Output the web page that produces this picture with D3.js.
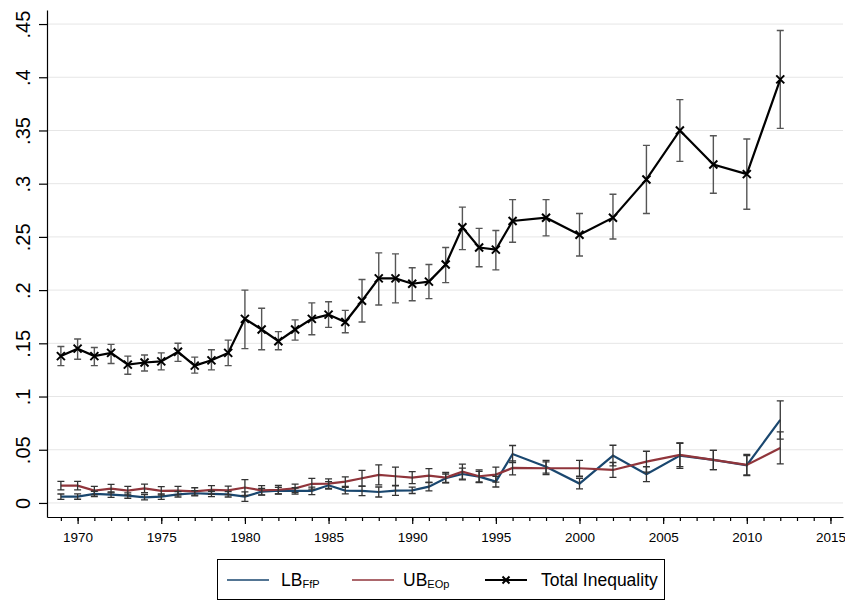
<!DOCTYPE html>
<html>
<head>
<meta charset="utf-8">
<script src="https://cdn.jsdelivr.net/npm/d3@7"></script>
<style>
  body { margin: 0; background: #fff; }
  svg { font-family: "Liberation Sans", Arial, sans-serif; }
</style>
</head>
<body>
<div id="chart"></div>
<script>
// years shared by all three series
const years = [1969, 1970, 1971, 1972, 1973, 1974, 1975, 1976, 1977, 1978, 1979,
  1980, 1981, 1982, 1983, 1984, 1985, 1986, 1987, 1988, 1989, 1990, 1991, 1992,
  1993, 1994, 1995, 1996, 1998, 2000, 2002, 2004, 2006, 2008, 2010, 2012];

// Total inequality, with confidence bands
const totalIneq = [.138, .145, .138, .141, .130, .132, .133, .142, .129, .134, .141,
  .173, .163, .152, .163, .173, .177, .170, .190, .211, .211, .206, .208, .224,
  .259, .240, .238, .265, .268, .252, .268, .304, .350, .318, .309, .398];
const totalLo = [.129, .135, .129, .131, .121, .124, .125, .133, .122, .125, .129,
  .145, .144, .144, .153, .158, .165, .160, .170, .186, .188, .190, .192, .207,
  .238, .222, .219, .245, .251, .232, .248, .272, .321, .291, .276, .352];
const totalHi = [.147, .154, .146, .149, .138, .139, .141, .150, .137, .144, .153,
  .200, .183, .161, .172, .188, .189, .181, .210, .235, .234, .221, .224, .240,
  .278, .258, .256, .285, .285, .272, .290, .336, .379, .345, .342, .444];

// LB FfP
const lbFfP = [.0059, .0060, .0085, .0078, .0069, .0053, .0059, .0081, .0091, .0085, .0081,
  .0059, .0106, .0116, .0113, .0114, .0166, .0116, .0113, .0103, .0116, .0119, .0153, .0232,
  .0272, .0247, .0200, .0460, .0340, .0182, .0445, .0270, .0445, .0404, .0354, .0780];
const lbHalf = [.0025, .0025, .0025, .0025, .0025, .0025, .0025, .0025, .0025, .0025, .0025,
  .0045, .0030, .0030, .0030, .0035, .0035, .0030, .0045, .0047, .0044, .0030, .0040, .0040,
  .0056, .0050, .0050, .0080, .0060, .0050, .0097, .0070, .0120, .0090, .0090, .0180];

// UB EOp
const ubEOp = [.0163, .0163, .0116, .0135, .0116, .0136, .0114, .0115, .0108, .0122, .0118,
  .0145, .0118, .0124, .0137, .0180, .0182, .0200, .0232, .0263, .0251, .0238, .0257, .0238,
  .0294, .0251, .0266, .0329, .0326, .0326, .0310, .0388, .0451, .0404, .0357, .0517];
const ubHalf = [.0040, .0040, .0040, .0040, .0040, .0040, .0040, .0040, .0035, .0040, .0040,
  .0075, .0045, .0040, .0040, .0050, .0045, .0045, .0075, .0094, .0085, .0056, .0065, .0050,
  .0070, .0060, .0070, .0066, .0060, .0075, .0070, .0098, .0110, .0090, .0100, .0150];

const yTicks = [0, .05, .1, .15, .2, .25, .3, .35, .4, .45];
const yTickLabels = ["0", ".05", ".1", ".15", ".2", ".25", ".3", ".35", ".4", ".45"];
const xTicks = [1970, 1975, 1980, 1985, 1990, 1995, 2000, 2005, 2010, 2015];
const xMinorTicks = d3.range(1969, 2016);

const width = 845;
const height = 601;

const navy = "#1a476f";
const maroon = "#90353b";

const svg = d3.select("#chart").append("svg")
  .attr("width", width)
  .attr("height", height);

const x = d3.scaleLinear().domain([1968.17, 2015.75]).range([47, 843]);
const y = d3.scaleLinear().domain([-0.0132, 0.4632]).range([517, 10]);

// gridlines
svg.append("g")
  .selectAll("line")
  .data(yTicks)
  .join("line")
  .attr("x1", 48)
  .attr("x2", 843)
  .attr("y1", d => y(d))
  .attr("y2", d => y(d))
  .attr("stroke", "#e6e6e6")
  .attr("stroke-width", 1);

// y axis
const yAxis = svg.append("g")
  .attr("transform", "translate(47,0)")
  .call(d3.axisLeft(y).tickValues(yTicks).tickSize(8).tickSizeOuter(0)
    .tickFormat((d, i) => yTickLabels[i]));
yAxis.select(".domain").attr("stroke", "#000").attr("stroke-width", 1.2);
yAxis.selectAll(".tick line").attr("stroke", "#000").attr("stroke-width", 1.2);
yAxis.selectAll(".tick text")
  .attr("x", null)
  .attr("dy", null)
  .attr("text-anchor", "middle")
  .attr("transform", "translate(-17,0) rotate(-90)")
  .attr("font-size", 20)
  .attr("fill", "#000")
  .attr("font-family", "'Liberation Sans', Arial, sans-serif");

// x axis: minor ticks first, then labelled major ticks
const xAxisG = svg.append("g").attr("transform", "translate(0,517)");
xAxisG.append("g")
  .call(d3.axisBottom(x).tickValues(xMinorTicks).tickSize(4).tickSizeOuter(0).tickFormat(""))
  .call(g => g.select(".domain").attr("stroke", "#000").attr("stroke-width", 1.2))
  .call(g => g.selectAll(".tick line").attr("stroke", "#000").attr("stroke-width", 1.2));
xAxisG.append("g")
  .call(d3.axisBottom(x).tickValues(xTicks).tickSize(7).tickSizeOuter(0).tickFormat(d3.format("d")))
  .call(g => g.select(".domain").remove())
  .call(g => g.selectAll(".tick line").attr("stroke", "#000").attr("stroke-width", 1.2))
  .call(g => g.selectAll(".tick text")
    .attr("y", 25)
    .attr("dy", null)
    .attr("font-size", 13.5)
    .attr("fill", "#000")
    .attr("font-family", "'Liberation Sans', Arial, sans-serif"));

// helper for capped error bars
function drawCaps(lo, hi, color, width) {
  const g = svg.append("g").attr("stroke", color).attr("stroke-width", width).attr("fill", "none");
  g.selectAll("path")
    .data(years.map((yr, i) => ({ yr, lo: lo[i], hi: hi[i] })))
    .join("path")
    .attr("d", d => {
      const cx = x(d.yr);
      const y0 = y(d.lo);
      const y1 = y(d.hi);
      return `M${cx - 3.5},${y1}H${cx + 3.5}M${cx},${y1}V${y0}M${cx - 3.5},${y0}H${cx + 3.5}`;
    });
}

const line = d3.line()
  .x((d, i) => x(years[i]))
  .y(d => y(d));

// lower series: lines then their confidence caps
svg.append("path")
  .datum(lbFfP)
  .attr("d", line)
  .attr("fill", "none")
  .attr("stroke", navy)
  .attr("stroke-width", 2.2);
svg.append("path")
  .datum(ubEOp)
  .attr("d", line)
  .attr("fill", "none")
  .attr("stroke", maroon)
  .attr("stroke-width", 2.2);

drawCaps(lbFfP.map((v, i) => v - lbHalf[i]), lbFfP.map((v, i) => v + lbHalf[i]), "#333", 1.3);
drawCaps(ubEOp.map((v, i) => v - ubHalf[i]), ubEOp.map((v, i) => v + ubHalf[i]), "#333", 1.3);

// total inequality
drawCaps(totalLo, totalHi, "#555", 1.4);
svg.append("path")
  .datum(totalIneq)
  .attr("d", line)
  .attr("fill", "none")
  .attr("stroke", "#000")
  .attr("stroke-width", 2.2);

svg.append("g")
  .selectAll("path")
  .data(totalIneq)
  .join("path")
  .attr("d", (d, i) => {
    const cx = x(years[i]);
    const cy = y(d);
    return `M${cx - 4},${cy - 4}L${cx + 4},${cy + 4}M${cx - 4},${cy + 4}L${cx + 4},${cy - 4}`;
  })
  .attr("stroke", "#000")
  .attr("stroke-width", 2);

// legend
const legend = svg.append("g");
legend.append("rect")
  .attr("x", 217.5)
  .attr("y", 559.5)
  .attr("width", 447)
  .attr("height", 40)
  .attr("fill", "#fff")
  .attr("stroke", "#000")
  .attr("stroke-width", 1);

const legendItems = [
  { main: "LB", sub: "FfP", color: navy, x0: 227, textX: 281, marker: false },
  { main: "UB", sub: "EOp", color: maroon, x0: 352, textX: 403, marker: false },
  { main: "Total Inequality", sub: "", color: "#000", x0: 485, textX: 541, marker: true }
];

legendItems.forEach(item => {
  legend.append("line")
    .attr("x1", item.x0)
    .attr("x2", item.x0 + 42)
    .attr("y1", 580)
    .attr("y2", 580)
    .attr("stroke", item.color)
    .attr("stroke-width", item.marker ? 2 : 1.6);
  if (item.marker) {
    const cx = item.x0 + 21;
    legend.append("path")
      .attr("d", `M${cx - 3.5},576.5L${cx + 3.5},583.5M${cx - 3.5},583.5L${cx + 3.5},576.5`)
      .attr("stroke", "#000")
      .attr("stroke-width", 2);
  }
  const t = legend.append("text")
    .attr("x", item.textX)
    .attr("y", 586)
    .attr("font-size", 17.5)
    .attr("fill", "#000")
    .text(item.main);
  if (item.sub) {
    t.append("tspan")
      .attr("dy", 1.5)
      .attr("font-size", 11)
      .text(item.sub);
  }
});
</script>
</body>
</html>
